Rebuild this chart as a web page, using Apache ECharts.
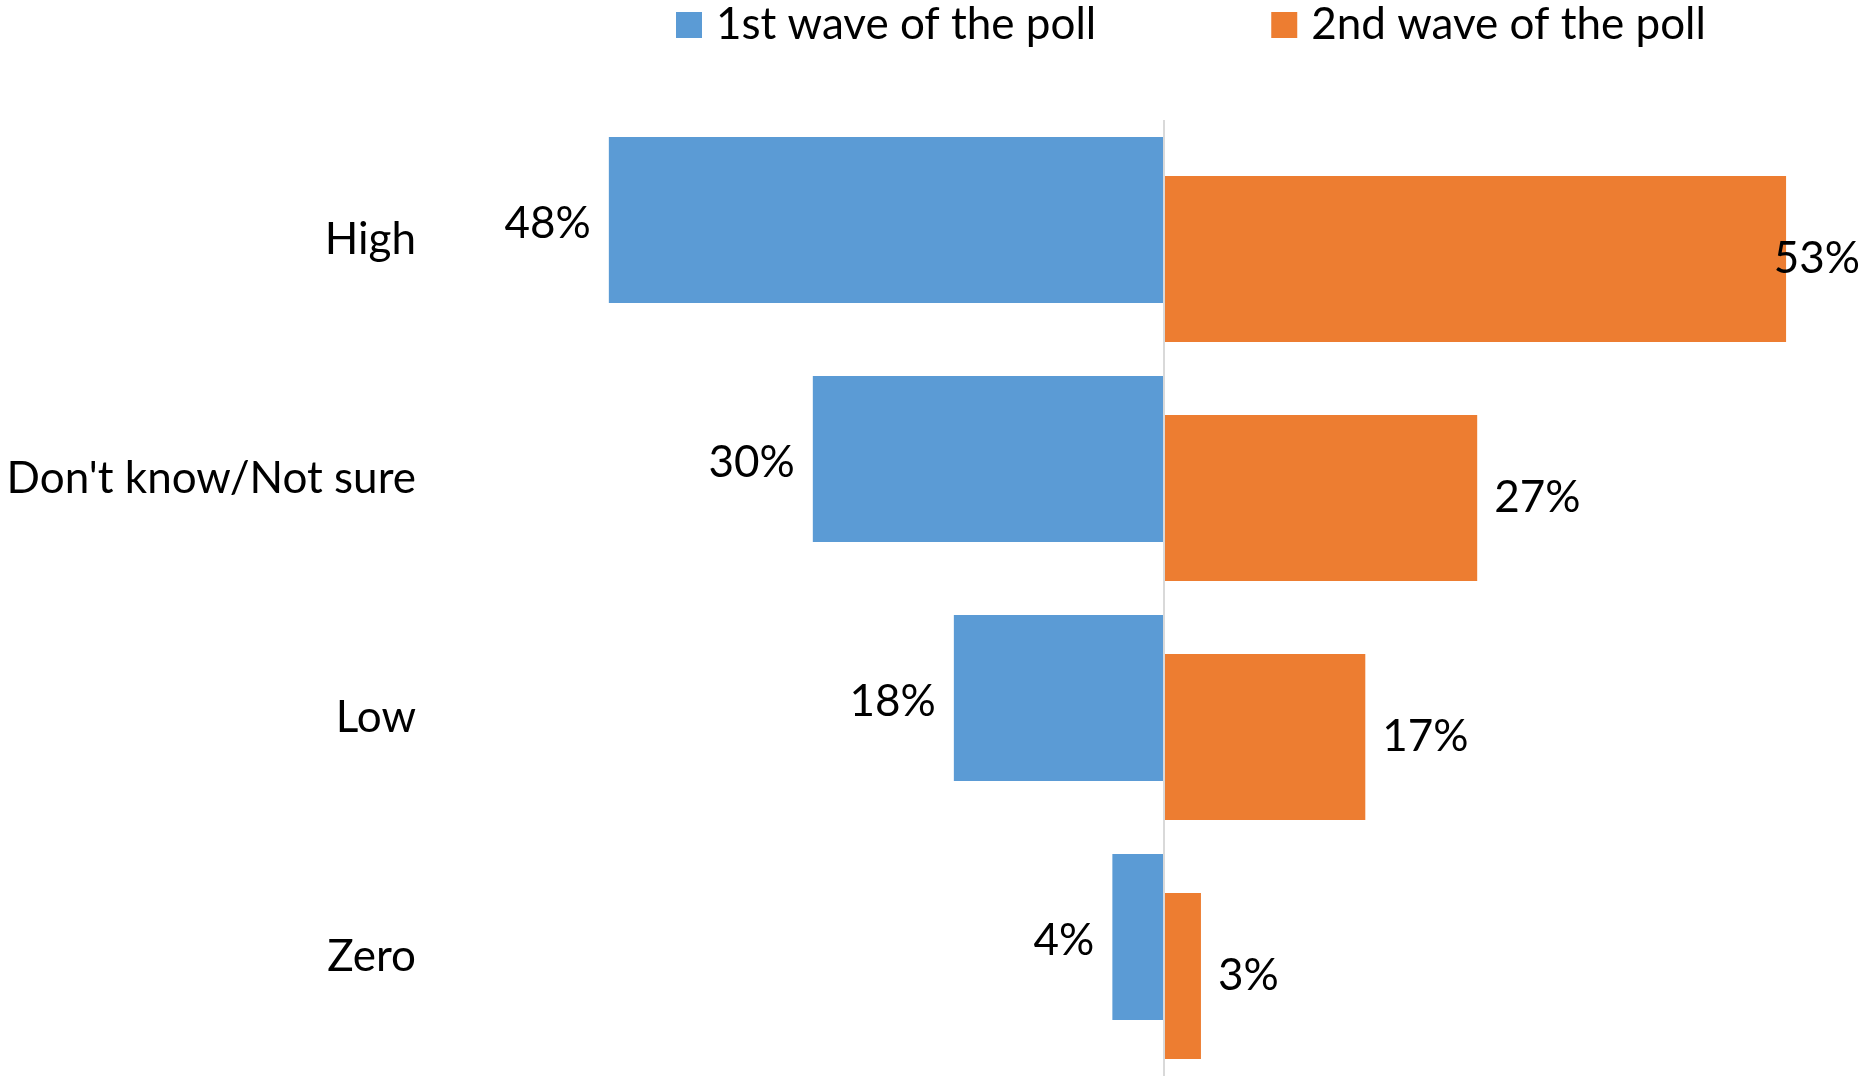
<!DOCTYPE html>
<html>
<head>
<meta charset="utf-8">
<style>
    html, body { margin: 0; padding: 0; background: #fff; }
    #main { width: 1863px; height: 1076px; }
</style>
</head>
<body>
<div id="main"></div>
<script src="https://cdn.jsdelivr.net/npm/echarts@6/dist/echarts.min.js"></script>
<script>
    // categories, top to bottom
    var categories = ['High', "Don't know/Not sure", 'Low', 'Zero'];
    var seriesNames = ['1st wave of the poll', '2nd wave of the poll'];
    // percentages
    var wave1 = [47.6, 30.1, 18.0, 4.4];
    var wave2 = [53.4, 26.9, 17.3, 3.2];

    var FONT = 'Lato';
    var W = 1863;

    function pct(p) {
        return Math.round(Math.abs(p.value)) + '%';
    }

    var myChart = echarts.init(document.getElementById('main'));
    var option = {
        animation: false,
        textStyle: { fontFamily: FONT },
        legend: {
            data: seriesNames,
            left: 671,
            top: -2,
            itemWidth: 26,
            itemHeight: 26,
            itemGap: 175,
            icon: 'rect',
            textStyle: { fontSize: 44, color: '#000', fontFamily: FONT, padding: [0, 0, 0, 9] }
        },
        grid: { left: 441, width: 1422, top: 120, height: 960, containLabel: false },
        xAxis: {
            type: 'value',
            min: -62,
            max: 60,
            show: false
        },
        yAxis: {
            type: 'category',
            data: categories,
            inverse: true,
            axisLine: { show: false, onZero: false },
            axisTick: { show: false },
            axisLabel: { fontSize: 44, color: '#000', margin: 25, fontFamily: FONT }
        },
        series: [
            {
                name: seriesNames[0],
                type: 'bar',
                data: wave1.map(function (v) { return -v; }),
                barWidth: 166,
                barGap: '-76.5%',
                itemStyle: { color: '#5B9BD5' },
                label: { show: true, position: 'left', distance: 18, offset: [0, 4], fontSize: 44, color: '#000', fontFamily: FONT, formatter: pct },
                markLine: {
                    silent: true,
                    symbol: 'none',
                    label: { show: false },
                    lineStyle: { color: '#d9d9d9', width: 2, type: 'solid' },
                    data: [{ xAxis: 0 }]
                }
            },
            {
                name: seriesNames[1],
                type: 'bar',
                data: wave2,
                barWidth: 166,
                itemStyle: { color: '#ED7D31' },
                label: { show: true, position: 'right', distance: 17, offset: [0, 4], fontSize: 44, color: '#000', fontFamily: FONT, formatter: pct },
                // keep labels inside the chart like the original does
                labelLayout: function (params) {
                    var r = params.labelRect;
                    var over = r.x + r.width - (W - 3);
                    return over > 0 ? { dx: -over } : {};
                }
            }
        ]
    };
    myChart.setOption(option);
</script>
</body>
</html>
